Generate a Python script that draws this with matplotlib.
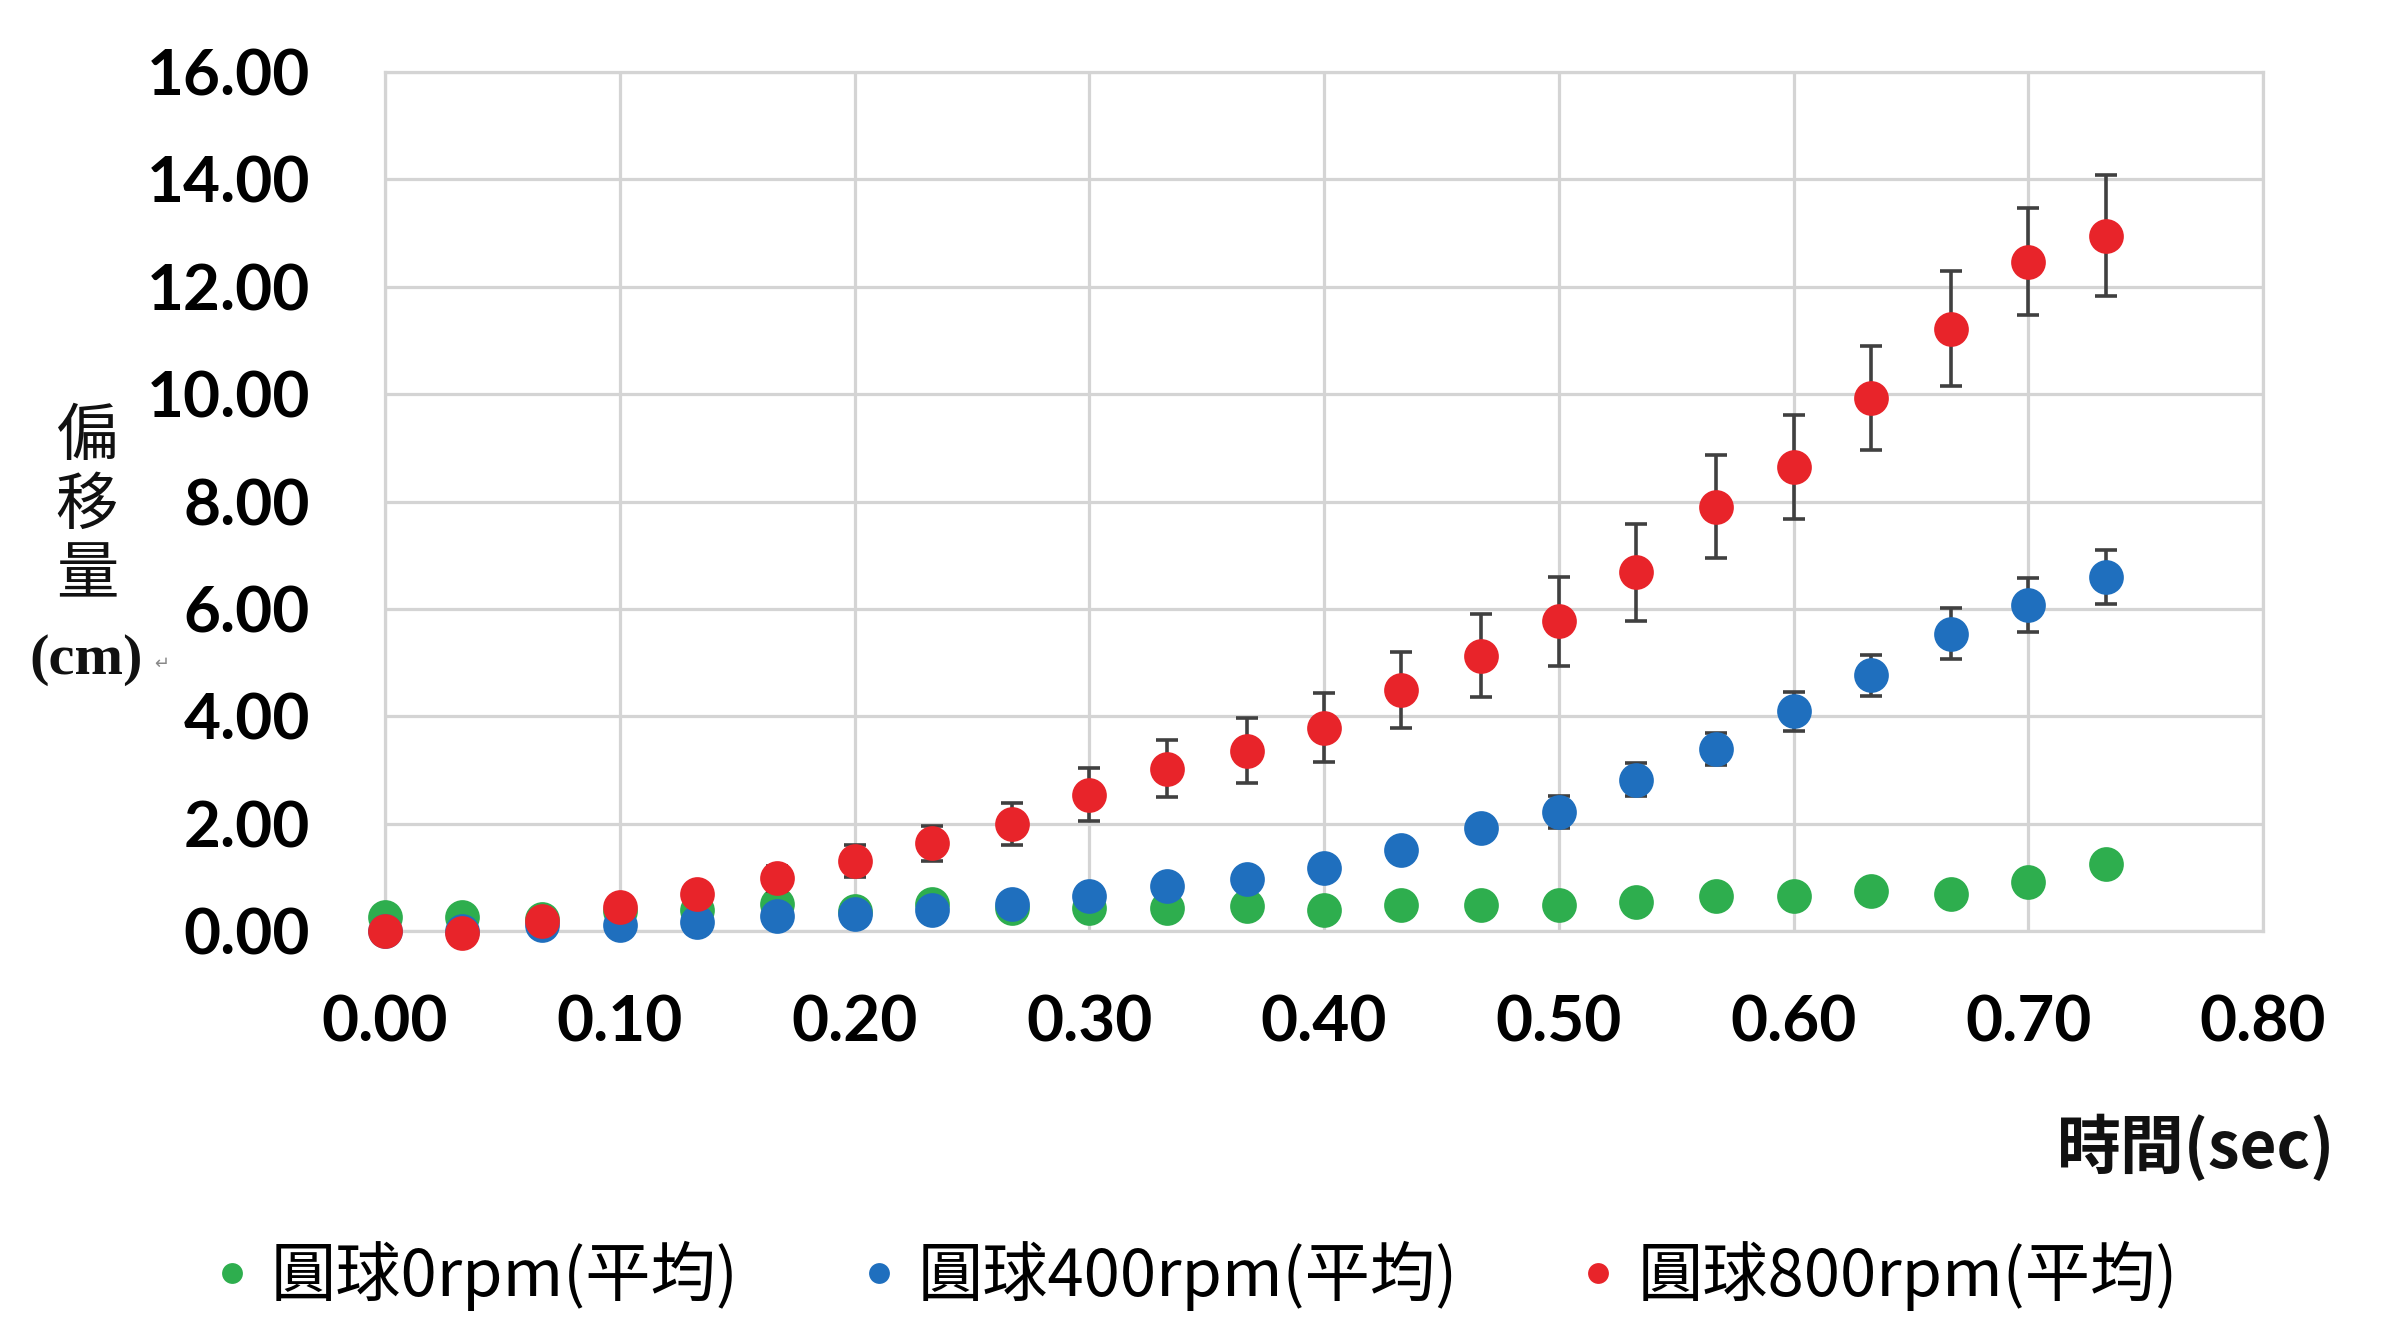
import matplotlib
matplotlib.use("Agg")
import matplotlib.pyplot as plt
from matplotlib.lines import Line2D

plt.rcParams['font.family'] = ['Noto Sans CJK TC', 'DejaVu Sans']

# Time points (sec)
time_s = [0.000, 0.033, 0.067, 0.100, 0.133, 0.167, 0.200, 0.233, 0.267, 0.300,
          0.333, 0.367, 0.400, 0.433, 0.467, 0.500, 0.533, 0.567, 0.600, 0.633,
          0.667, 0.700, 0.733]

# Mean displacement (cm) and error for each spin rate
disp_0rpm = [0.27, 0.26, 0.22, 0.38, 0.40, 0.50, 0.38, 0.50, 0.42, 0.43,
             0.43, 0.47, 0.40, 0.49, 0.48, 0.48, 0.54, 0.65, 0.65, 0.74,
             0.69, 0.92, 1.25]
err_0rpm = [0.04, 0.04, 0.04, 0.05, 0.05, 0.05, 0.05, 0.05, 0.05, 0.05,
            0.05, 0.05, 0.05, 0.05, 0.05, 0.05, 0.06, 0.06, 0.06, 0.07,
            0.07, 0.12, 0.17]

disp_400rpm = [0.00, 0.00, 0.12, 0.12, 0.16, 0.28, 0.31, 0.40, 0.51, 0.65,
               0.84, 0.97, 1.18, 1.50, 1.92, 2.22, 2.82, 3.39, 4.09, 4.76,
               5.54, 6.07, 6.59]
err_400rpm = [0.03, 0.03, 0.04, 0.04, 0.04, 0.05, 0.05, 0.05, 0.05, 0.05,
              0.05, 0.05, 0.06, 0.08, 0.12, 0.30, 0.30, 0.30, 0.36, 0.38,
              0.47, 0.50, 0.50]

disp_800rpm = [0.00, -0.03, 0.19, 0.45, 0.68, 0.98, 1.31, 1.63, 1.99, 2.54,
               3.02, 3.36, 3.79, 4.49, 5.13, 5.77, 6.68, 7.90, 8.64, 9.92,
               11.22, 12.47, 12.95]
err_800rpm = [0.03, 0.03, 0.08, 0.10, 0.15, 0.23, 0.30, 0.33, 0.39, 0.49,
              0.53, 0.60, 0.64, 0.70, 0.78, 0.83, 0.90, 0.96, 0.97, 0.97,
              1.07, 1.00, 1.13]

series_labels = ['圓球0rpm(平均)', '圓球400rpm(平均)', '圓球800rpm(平均)']
series_colors = ['#2EAE4E', '#1F6FBE', '#E8242A']

x_ticks = [0.0, 0.1, 0.2, 0.3, 0.4, 0.5, 0.6, 0.7, 0.8]
y_ticks = [0, 2, 4, 6, 8, 10, 12, 14, 16]

W, H = 2406, 1317
fig = plt.figure(figsize=(W / 100, H / 100), dpi=100)
fig.patch.set_facecolor('white')
ax = fig.add_axes([385 / W, 1 - 931 / H, (2263 - 385) / W, (931 - 72) / H])

grid_color = '#d4d4d4'
series = [(disp_0rpm, err_0rpm), (disp_400rpm, err_400rpm), (disp_800rpm, err_800rpm)]
for i, ((vals, errs), color) in enumerate(zip(series, series_colors)):
    data_line, caplines, barcols = ax.errorbar(
        time_s, vals, yerr=errs, fmt='o', color=color, markersize=25,
        ecolor='#404040', elinewidth=2.6, capsize=8, capthick=2.6,
        zorder=3 + i, label=series_labels[i])
    data_line.set_markeredgewidth(0)
    data_line.set_clip_on(False)
    for cap in caplines:
        cap.set_clip_on(False)
    for col in barcols:
        col.set_clip_on(False)

ax.set_xlim(0, 0.8)
ax.set_ylim(0, 16)
ax.set_xticks(x_ticks)
ax.set_yticks(y_ticks)
ax.set_xticklabels([f'{v:.2f}' for v in x_ticks])
ax.set_yticklabels([f'{v:.2f}' for v in y_ticks])
for lab in ax.get_xticklabels() + ax.get_yticklabels():
    lab.set_fontfamily('Lato')
    lab.set_fontweight('bold')
    lab.set_fontsize(46)
ax.tick_params(axis='both', length=0)
ax.tick_params(axis='y', pad=54)
ax.tick_params(axis='x', pad=46)
ax.grid(True, color=grid_color, linewidth=2.3, zorder=0)
ax.set_axisbelow(True)
for sp in ax.spines.values():
    sp.set_color(grid_color)
    sp.set_linewidth(2.3)

# Vertical y-axis title
for ch, yc in zip('偏移量', [437, 506, 575]):
    fig.text(87 / W, 1 - yc / H, ch, ha='center', va='center', fontsize=45,
             family=['Noto Sans CJK TC'], color='#111111')
fig.text(86 / W, 1 - 660 / H, '(cm)', ha='center', va='center', fontsize=42,
         family=['Liberation Serif'], fontweight='bold', color='#111111')
fig.text(162 / W, 1 - 664 / H, '↵', ha='center', va='center', fontsize=13,
         family=['DejaVu Sans'], color='#888888')

# X-axis title
fig.text(2335 / W, 1 - 1148 / H, '時間(sec)', ha='right', va='center', fontsize=46,
         fontweight='bold', color='#111111')

# Legend along the bottom
handles = [Line2D([], [], marker='o', linestyle='none', color=c, markersize=15,
                  markeredgewidth=0) for c in series_colors]
fig.legend(handles, series_labels, loc='center left',
           bbox_to_anchor=(212 / W, 1 - 1276 / H), ncol=3, frameon=False,
           fontsize=47, handlelength=0.6, handletextpad=0.3, columnspacing=1.85,
           borderaxespad=0, borderpad=0)

fig.savefig('out.png', dpi=100, facecolor='white')
